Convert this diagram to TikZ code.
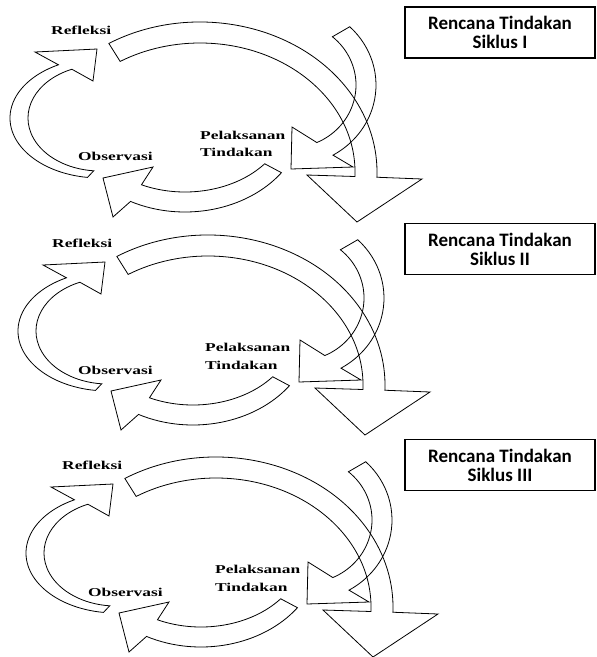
\documentclass[tikz,border=0pt]{standalone}
\usepackage{fontspec}
\newfontfamily\labf[FakeStretch=1.45]{Liberation Serif}
\newfontfamily\boxf{Carlito}
\newcommand\drawcycle[2]{%
\begin{scope}[shift={(#1,-#2)}]
 % big arrow to next cycle
 \path (200,-172) ++(121:177pt and 150pt) coordinate (Ao)
       (200,-172) ++(-2:155pt and 129pt) coordinate (Ai);
 \draw[arr] (Ao) arc[start angle=121,end angle=-2,x radius=177pt,y radius=150pt]
   -- (422,-179) -- (357,-222) -- (307,-175) -- (Ai)
   arc[start angle=-2,end angle=121,x radius=155pt,y radius=129pt] -- cycle;
 % arrow from plan box to action
 \path (290,-85) ++(46:86pt and 81pt) coordinate (Bo)
       (290,-85) ++(-66:66pt and 63pt) coordinate (Bi);
 \draw[arr] (Bo) arc[start angle=46,end angle=-60,x radius=86pt,y radius=81pt]
   -- (353,-167) -- (291,-169) -- (292,-127) -- (Bi)
   arc[start angle=-66,end angle=50,x radius=66pt,y radius=63pt] -- cycle;
 % arrow observation -> reflection
 \path (100,-118) ++(262:90pt and 60pt) coordinate (Co)
       (100,-118) ++(113:72pt and 53pt) coordinate (Ci);
 \draw[arr] (Co) arc[start angle=262,end angle=117.5,x radius=90pt,y radius=60pt]
   -- (35,-52) -- (97,-49) -- (93,-81) -- (Ci)
   arc[start angle=113,end angle=265,x radius=72pt,y radius=53pt] -- cycle;
 % arrow action -> observation
 \path (185,-115) ++(-36.5:120pt and 97pt) coordinate (Do)
       (185,-115) ++(-115:103pt and 77pt) coordinate (Di);
 \draw[arr] (Do) arc[start angle=-36.5,end angle=-117,x radius=120pt,y radius=97pt]
   -- (113,-217) -- (103,-178) -- (153,-167) -- (Di)
   arc[start angle=-115,end angle=-39.3,x radius=103pt,y radius=77pt] -- cycle;
\end{scope}}
\begin{document}
\begin{tikzpicture}[x=1pt,y=1pt,
  arr/.style={draw=black,line width=0.8pt,line join=miter},
  lab/.style={font=\labf\bfseries\fontsize{12}{14}\selectfont,inner sep=0pt,anchor=base west},
  rbox/.style={draw=black,line width=1.2pt,minimum width=190pt,minimum height=51pt,
    align=center,inner sep=0pt,font=\boxf\bfseries\fontsize{19}{19}\selectfont}]
\useasboundingbox (0,0) rectangle (597,-657);
\fill[white] (0,0) rectangle (597,-657);

\drawcycle{0}{0}
\drawcycle{8}{213}
\drawcycle{16}{435}

\node[rbox] (rt1) at (500,-32.5) {Rencana Tindakan\\Siklus I};
\node[rbox] (rt2) at (500,-249) {Rencana Tindakan\\Siklus II};
\node[rbox] (rt3) at (500,-465) {Rencana Tindakan\\Siklus III};

\node[lab] (ref1) at (51,-34.8) {Refleksi};
\node[lab] (obs1) at (78,-160.3) {Observasi};
\node[lab] (pel1) at (200,-139.3) {Pelaksanan};
\node[lab] (tin1) at (200,-156) {Tindakan};

\node[lab] (ref2) at (52,-247.5) {Refleksi};
\node[lab] (obs2) at (78,-374) {Observasi};
\node[lab] (pel2) at (205,-351.7) {Pelaksanan};
\node[lab] (tin2) at (205,-369) {Tindakan};

\node[lab] (ref3) at (62,-469.3) {Refleksi};
\node[lab] (obs3) at (88,-596.3) {Observasi};
\node[lab] (pel3) at (215,-573.3) {Pelaksanan};
\node[lab] (tin3) at (215,-591.7) {Tindakan};
\end{tikzpicture}
\end{document}
